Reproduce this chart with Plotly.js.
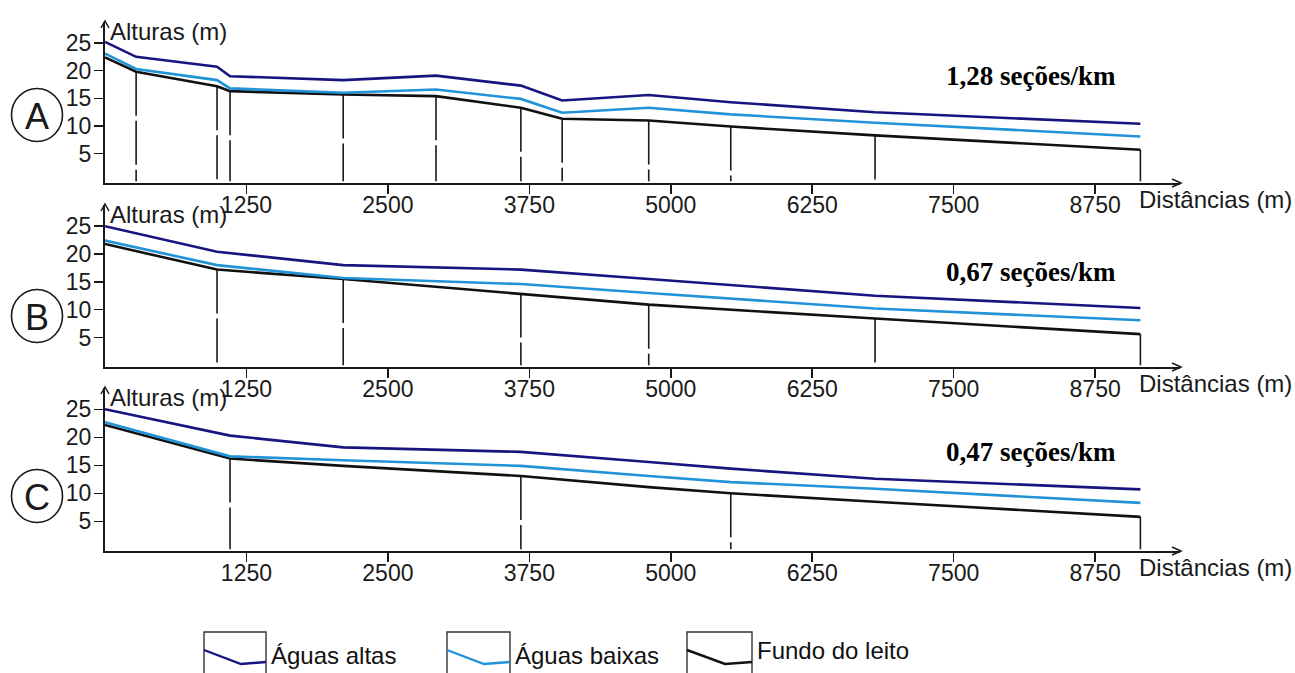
<!DOCTYPE html>
<html>
<head>
<meta charset="utf-8">
<script src="https://cdn.plot.ly/plotly-3.0.1.min.js"></script>
<style>html,body{margin:0;padding:0;background:#fff;}#chart{width:1295px;height:673px;}</style>
</head>
<body>
<div id="chart"></div>
<script>
// ---------- DATA ----------
const seriesNames = ["Águas altas", "Águas baixas", "Fundo do leito"];
const xTickVals = [1250, 2500, 3750, 5000, 6250, 7500, 8750];
const xTickText = ["1250", "2500", "3750", "5000", "6250", "7500", "8750"];
const yTickVals = [5, 10, 15, 20, 25];
const yTickText = ["5", "10", "15", "20", "25"];

// Panel A (1,28 seções/km)
const distA   = [0, 275, 990, 1105, 2105, 2925, 3675, 4040, 4805, 5530, 6805, 9150];
const altasA  = [25.2, 22.5, 20.7, 19.0, 18.3, 19.1, 17.3, 14.6, 15.6, 14.3, 12.5, 10.4];
const baixasA = [23.1, 20.3, 18.3, 16.8, 16.0, 16.6, 14.9, 12.4, 13.3, 12.1, 10.6, 8.1];
const fundoA  = [22.4, 19.8, 17.2, 16.3, 15.7, 15.4, 13.3, 11.3, 11.0, 9.9, 8.3, 5.7];
const sectionsA = [275, 990, 1105, 2105, 2925, 3675, 4040, 4805, 5530, 6805, 9150];

// Panel B (0,67 seções/km)
const distB   = [0, 990, 2105, 3675, 4805, 6805, 9150];
const altasB  = [25.0, 20.4, 18.0, 17.2, 15.5, 12.5, 10.3];
const baixasB = [22.4, 18.0, 15.7, 14.6, 13.0, 10.2, 8.1];
const fundoB  = [21.8, 17.2, 15.5, 12.9, 10.9, 8.4, 5.6];
const sectionsB = [990, 2105, 3675, 4805, 6805, 9150];

// Panel C (0,47 seções/km)
const distC   = [0, 1105, 2105, 3675, 4805, 5530, 6805, 9150];
const altasC  = [25.0, 20.3, 18.2, 17.4, 15.6, 14.4, 12.6, 10.7];
const baixasC = [22.7, 16.6, 15.9, 14.9, 13.1, 12.0, 10.8, 8.3];
const fundoC  = [22.2, 16.2, 14.9, 13.1, 11.1, 10.0, 8.5, 5.8];
const sectionsC = [1105, 3675, 5530, 9150];

const panelLetters = ["A", "B", "C"];
const densityLabels = ["1,28 seções/km", "0,67 seções/km", "0,47 seções/km"];
const yTitle = "Alturas (m)";
const xTitle = "Distâncias (m)";

// ---------- LAYOUT HELPERS ----------
const W = 1295, H = 673;
const X = px => px / W;
const Y = py => 1 - py / H;
const colors = ["#17157f", "#2193d6", "#111111"];
const axisColor = "#1a1a1a";
const FONT = "Liberation Sans, Arial, sans-serif";

const panels = [
  {dist: distA, series: [altasA, baixasA, fundoA], sections: sectionsA, top: 22, bottom: 183, cy: 115, dy: 76},
  {dist: distB, series: [altasB, baixasB, fundoB], sections: sectionsB, top: 205, bottom: 367, cy: 316, dy: 272},
  {dist: distC, series: [altasC, baixasC, fundoC], sections: sectionsC, top: 388, bottom: 551, cy: 496, dy: 452}
];

const xLeft = 105, xRight = 1180;
const traces = [];
const layout = {
  width: W, height: H, autosize: false,
  margin: {l: 0, r: 0, t: 0, b: 0},
  paper_bgcolor: "#fff", plot_bgcolor: "rgba(0,0,0,0)",
  showlegend: false,
  font: {family: FONT, color: axisColor},
  shapes: [], annotations: []
};

panels.forEach((p, i) => {
  const sfx = i === 0 ? "" : String(i + 1);
  const xa = "x" + sfx, ya = "y" + sfx;
  // section lines (from bed up to riverbed elevation)
  p.sections.forEach((s, k) => {
    const idx = p.dist.indexOf(s);
    const last = k === p.sections.length - 1;
    traces.push({
      x: [s, s], y: [p.series[2][idx], 0], xaxis: xa, yaxis: ya,
      mode: "lines", hoverinfo: "skip",
      line: {color: "#1a1a1a", width: 1.6, dash: last ? "solid" : "44px,5px"}
    });
  });
  // water / bed lines
  [2, 1, 0].forEach(j => {
    traces.push({
      x: p.dist, y: p.series[j], xaxis: xa, yaxis: ya,
      mode: "lines", name: seriesNames[j],
      line: {color: colors[j], width: 2.6}
    });
  });
  layout["xaxis" + sfx] = {
    domain: [X(xLeft), X(xRight)], range: [0, 9500], anchor: ya,
    tickvals: xTickVals, ticktext: xTickText,
    ticks: "outside", ticklen: 9, tickwidth: 1.5, tickcolor: axisColor,
    ticklabelstandoff: -9,
    showline: true, linecolor: axisColor, linewidth: 2,
    showgrid: false, zeroline: false, fixedrange: true,
    tickfont: {size: 23, color: axisColor, family: FONT}
  };
  layout["yaxis" + sfx] = {
    domain: [Y(p.bottom), Y(p.top)], range: [-0.3, 28.8], anchor: xa,
    tickvals: yTickVals, ticktext: yTickText,
    ticks: "outside", ticklen: 9, tickwidth: 1.5, tickcolor: axisColor,
    ticklabelstandoff: -2,
    showline: true, linecolor: axisColor, linewidth: 2,
    showgrid: false, zeroline: false, fixedrange: true,
    tickfont: {size: 23, color: axisColor, family: FONT}
  };
  // axis arrows
  layout.shapes.push({
    type: "path", xref: "paper", yref: "paper",
    path: `M ${X(xLeft - 4)},${Y(p.top + 6)} L ${X(xLeft)},${Y(p.top - 1)} L ${X(xLeft + 4)},${Y(p.top + 6)}`,
    line: {color: axisColor, width: 1.5}
  });
  layout.shapes.push({
    type: "path", xref: "paper", yref: "paper",
    path: `M ${X(xRight - 8)},${Y(p.bottom - 4)} L ${X(xRight + 1)},${Y(p.bottom)} L ${X(xRight - 8)},${Y(p.bottom + 4)}`,
    line: {color: axisColor, width: 1.5}
  });
  // circled letter
  layout.shapes.push({
    type: "circle", xref: "paper", yref: "paper",
    x0: X(37 - 25.5), x1: X(37 + 25.5), y0: Y(p.cy + 26.5), y1: Y(p.cy - 26.5),
    line: {color: axisColor, width: 1.6}
  });
  layout.annotations.push({
    xref: "paper", yref: "paper", x: X(37), y: Y(p.cy + 1), text: panelLetters[i],
    showarrow: false, xanchor: "center", yanchor: "middle",
    font: {size: 36, family: FONT, color: axisColor}
  });
  // axis titles
  layout.annotations.push({
    xref: "paper", yref: "paper", x: X(108), y: Y(p.top + 9), text: yTitle,
    showarrow: false, xanchor: "left", yanchor: "middle",
    font: {size: 24, family: FONT, color: axisColor}
  });
  layout.annotations.push({
    xref: "paper", yref: "paper", x: X(1137), y: Y(p.bottom + 16), text: xTitle,
    showarrow: false, xanchor: "left", yanchor: "middle",
    font: {size: 24, family: FONT, color: axisColor}
  });
  // density label
  layout.annotations.push({
    xref: "paper", yref: "paper", x: X(1031), y: Y(p.dy), text: "<b>" + densityLabels[i] + "</b>",
    showarrow: false, xanchor: "center", yanchor: "middle",
    font: {size: 27, family: "Liberation Serif, Times New Roman, serif", color: "#000"}
  });
});

// ---------- CUSTOM LEGEND ----------
const legendBoxes = [
  {l: 204, r: 266, mid: 241, ty: 655},
  {l: 447, r: 510, mid: 484, ty: 655},
  {l: 687, r: 752, mid: 725, ty: 650}
];
legendBoxes.forEach((b, j) => {
  layout.shapes.push({
    type: "path", xref: "paper", yref: "paper",
    path: `M ${X(b.l)},${Y(675)} L ${X(b.l)},${Y(632)} L ${X(b.r)},${Y(632)} L ${X(b.r)},${Y(675)}`,
    line: {color: "#333", width: 1.4}
  });
  layout.shapes.push({
    type: "path", xref: "paper", yref: "paper",
    path: `M ${X(b.l)},${Y(650)} L ${X(b.mid)},${Y(664)} L ${X(b.r)},${Y(662)}`,
    line: {color: colors[j], width: 2.4}
  });
  layout.annotations.push({
    xref: "paper", yref: "paper", x: X(b.r + 3), y: Y(b.ty), text: seriesNames[j],
    showarrow: false, xanchor: "left", yanchor: "middle",
    font: {size: 24, family: FONT, color: "#111"}
  });
});

Plotly.newPlot("chart", traces, layout, {displayModeBar: false, staticPlot: true});
</script>
</body>
</html>
